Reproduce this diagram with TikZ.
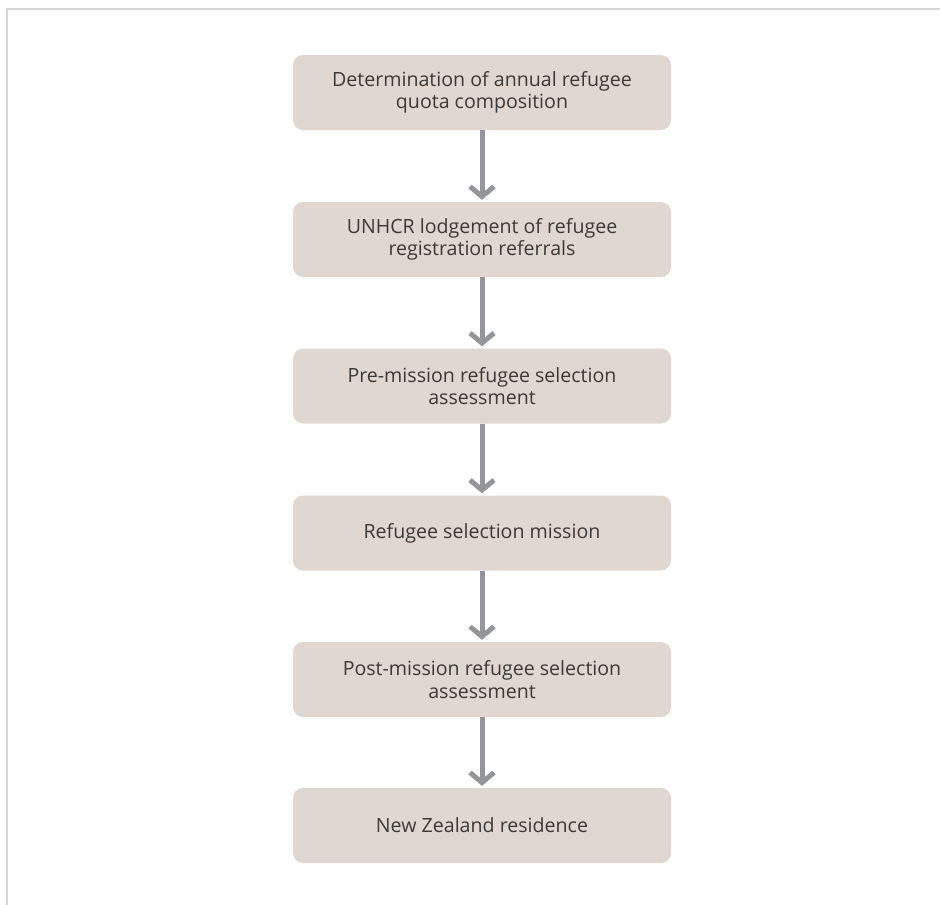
\documentclass[tikz,border=0pt]{standalone}
\usepackage{xcolor}
\usepackage{fontspec}
\setmainfont{Open Sans}
\usepackage{tikz}
\usetikzlibrary{arrows.meta}

\definecolor{boxfill}{HTML}{E0D7D0}
\definecolor{boxtext}{HTML}{3A3A3A}
\definecolor{arrowgray}{HTML}{939598}
\definecolor{framegray}{HTML}{D6D6D6}

\tikzset{
  stage/.style={draw=none, fill=boxfill, rounded corners=10pt,
    minimum width=378pt, minimum height=75pt, align=center,
    text=boxtext, font=\fontsize{19.6}{22.5}\selectfont},
  flow/.style={draw=arrowgray, line width=5pt, shorten >=2pt,
    -{Straight Barb[length=10pt,width=24pt]}}
}

\begin{document}
\begin{tikzpicture}[x=1pt,y=-1pt]
             \useasboundingbox (0,0) rectangle (940,905);

             % frame
             \draw[framegray, line width=1.5pt] (7,905) -- (7,9) -- (940,9);

             \node[stage] (quota) at (482, 92.5) {Determination of annual refugee\\quota composition};
             \node[stage] (unhcr) at (482, 239.5) {UNHCR lodgement of refugee\\registration referrals};
             \node[stage] (premission) at (482, 386) {Pre-mission refugee selection\\assessment};
             \node[stage] (mission) at (482, 533) {Refugee selection mission};
             \node[stage] (postmission) at (482, 679.5) {Post-mission refugee selection\\assessment};
             \node[stage] (residence) at (482, 825.5) {New Zealand residence};

             \draw[flow] (quota) -- (unhcr);
             \draw[flow] (unhcr) -- (premission);
             \draw[flow] (premission) -- (mission);
             \draw[flow] (mission) -- (postmission);
             \draw[flow] (postmission) -- (residence);
             \end{tikzpicture}
\end{document}
